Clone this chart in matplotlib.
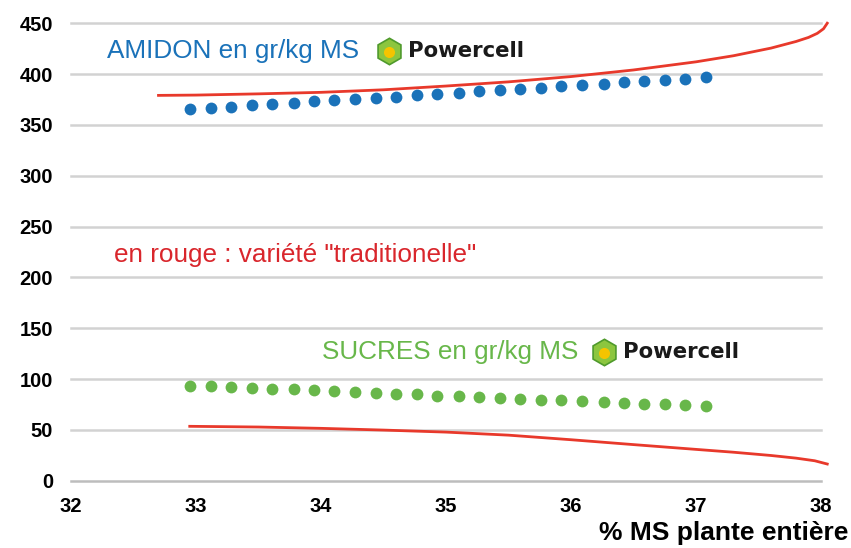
import matplotlib
matplotlib.use("Agg")
import matplotlib.pyplot as plt

plt.rcParams['font.family'] = ['Liberation Sans', 'DejaVu Sans']

# dotted series (Powercell)
x_dots = [32.95, 33.12, 33.28, 33.45, 33.61, 33.78, 33.94, 34.10, 34.27, 34.44,
          34.60, 34.77, 34.93, 35.10, 35.26, 35.43, 35.59, 35.76, 35.92, 36.09,
          36.26, 36.42, 36.58, 36.75, 36.91, 37.08]
amidon_pc = [365.3, 366.3, 367.9, 369.2, 370.8, 371.8, 373.2, 374.4, 375.4, 376.7,
             377.7, 379.1, 380.4, 381.7, 383.3, 384.3, 385.3, 386.6, 388.0, 389.2,
             390.5, 391.8, 392.8, 394.1, 395.4, 396.8]
sucres_pc = [93.4, 93.1, 92.4, 91.4, 90.4, 89.8, 88.8, 87.8, 86.8, 86.1,
             85.4, 84.8, 83.8, 83.2, 82.1, 81.2, 80.4, 79.5, 79.0, 78.1,
             77.4, 76.4, 75.7, 75.1, 74.2, 73.2]

# red curves (traditional variety)
x_amidon_trad = [32.7, 33.0, 33.5, 34.0, 34.5, 35.0, 35.5, 36.0, 36.5, 37.0, 37.3,
                 37.6, 37.8, 37.9, 37.97, 38.02, 38.05]
amidon_trad = [379, 379.3, 380.5, 382, 384.5, 388.2, 392.3, 397.5, 404, 412, 418,
               425.5, 432, 436, 440, 444.5, 450]
x_sucres_trad = [32.95, 33.5, 34.0, 34.5, 35.0, 35.5, 36.0, 36.5, 37.0, 37.3,
                 37.6, 37.8, 37.95, 38.05]
sucres_trad = [53.5, 52.8, 51.5, 49.8, 47.8, 44.8, 40.3, 35.5, 30.8, 28.0,
               24.8, 22.2, 19.6, 16.4]

yticks = [0, 50, 100, 150, 200, 250, 300, 350, 400, 450]
xticks = [32, 33, 34, 35, 36, 37, 38]

BLUE = '#1a72b9'
GREEN = '#68b74a'
RED = '#e8392b'

fig = plt.figure(figsize=(8.51, 5.48), dpi=100)
ax = fig.add_axes([71 / 851, 67.3 / 548, 750 / 851, 457.5 / 548])

for y in yticks:
    ax.axhline(y, color='#d2d2d2' if y else '#bdbdbd', lw=1.8, zorder=0, clip_on=False)

ax.plot(x_amidon_trad, amidon_trad, color=RED, lw=2, clip_on=False, zorder=3)
ax.plot(x_sucres_trad, sucres_trad, color=RED, lw=2, clip_on=False, zorder=3)
ax.plot(x_dots, amidon_pc, 'o', color=BLUE, ms=8.5, mec='none', zorder=4)
ax.plot(x_dots, sucres_pc, 'o', color=GREEN, ms=8.5, mec='none', zorder=4)

ax.set_xlim(32, 38)
ax.set_ylim(0, 450)
ax.set_xticks(xticks)
ax.set_yticks(yticks)
ax.tick_params(length=0, labelsize=14.5)
ax.tick_params(axis='y', pad=13)
ax.tick_params(axis='x', pad=12)
for lbl in ax.get_xticklabels() + ax.get_yticklabels():
    lbl.set_fontweight('bold')
for s in ax.spines.values():
    s.set_visible(False)


def logo(x, y):
    ax.plot([x], [y], 'h', ms=19, color='#8cc63f', mec='#4f9a2c', mew=1.2, clip_on=False, zorder=5)
    ax.plot([x], [y - 1], 'o', ms=8, color='#f5c400', mec='none', clip_on=False, zorder=6)
    ax.text(x + 0.16, y, 'Powercell', fontsize=15.3, fontweight='bold', color='#1a1a1a',
            family=['DejaVu Sans'], ha='left', va='center')


ax.text(32.29, 422.6, 'AMIDON en gr/kg MS', fontsize=18.8, color=BLUE, ha='left', va='center')
logo(34.54, 422.6)
ax.text(34.01, 126.6, 'SUCRES en gr/kg MS', fontsize=18.8, color=GREEN, ha='left', va='center')
logo(36.26, 126.6)
ax.text(32.34, 222, 'en rouge : variété "traditionelle"', fontsize=18.8, color='#d9262c',
        ha='left', va='center')

fig.text(848 / 851, 1 - 533 / 548, '% MS plante entière', fontsize=19, fontweight='bold',
         ha='right', va='center')

fig.savefig('out.png', dpi=100)
